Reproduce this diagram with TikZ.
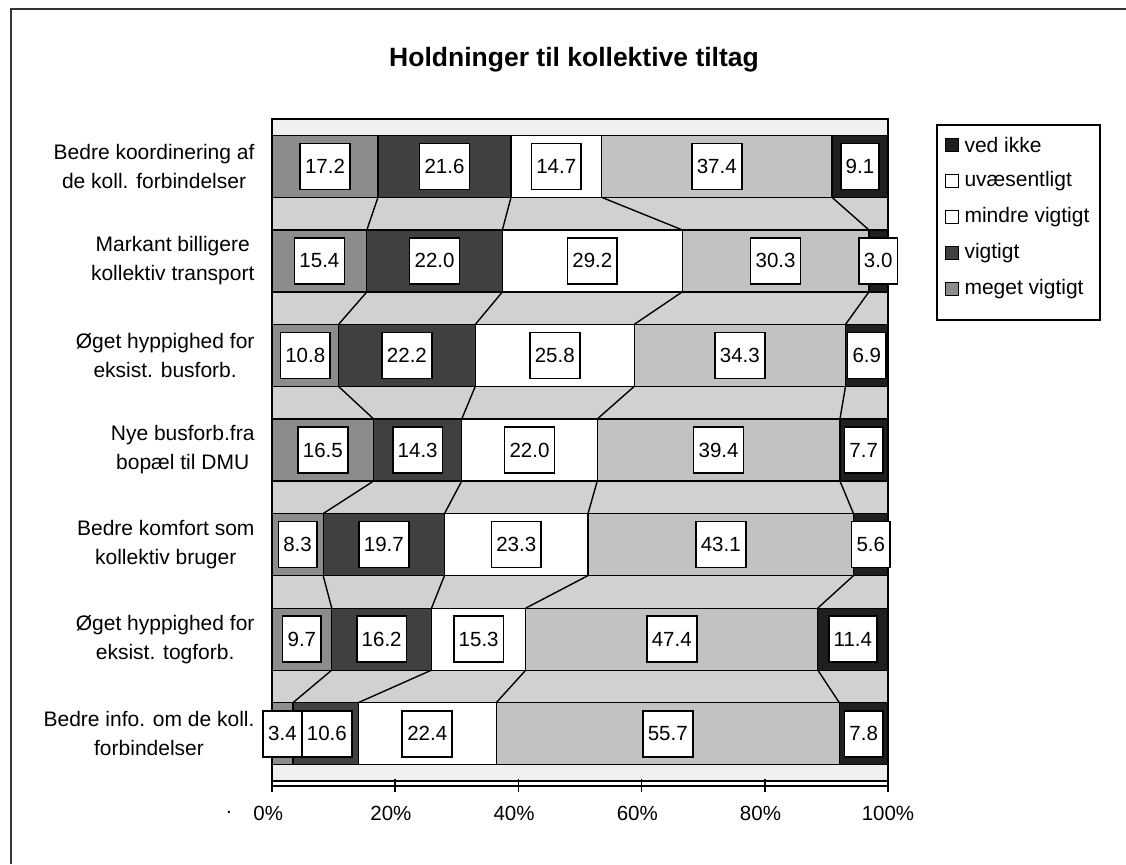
\documentclass[tikz,border=0pt]{standalone}
\usepackage{fontspec}
\setmainfont{Liberation Sans}
\definecolor{megetgray}{gray}{0.55}
\definecolor{vigtiggray}{gray}{0.25}
\definecolor{uvaesgray}{gray}{0.76}
\definecolor{vedikkegray}{gray}{0.12}
\definecolor{gapgray}{gray}{0.82}
\definecolor{stripgray}{gray}{0.94}
\tikzset{
  seg/.style={draw=black, line width=1.2pt},
  numbox/.style={draw=black, fill=white, line width=1.6pt, inner xsep=5pt, inner ysep=0pt,
    minimum height=46pt, font=\fontsize{20.5}{24}\selectfont},
  catlabel/.style={anchor=east, align=center, font=\fontsize{21}{29}\selectfont},
  legmark/.style={draw=black, line width=1pt, minimum size=13pt, inner sep=0pt},
  legtext/.style={anchor=west, font=\fontsize{21}{24}\selectfont},
  axlabel/.style={font=\fontsize{20.5}{24}\selectfont},
  serieline/.style={black, line width=1.4pt}
}
\begin{document}
\begin{tikzpicture}[x=1pt,y=-1pt]
  \useasboundingbox (0,0) rectangle (1126,864);
  % outer frame
  \draw[line width=2.5pt, black!80] (11,864) -- (11,9) -- (1126,9);
  \node[font=\bfseries\fontsize{26.5}{30}\selectfont] (title) at (574,60) {Holdninger til kollektive tiltag};

  \begin{scope}[shift={(272,0)}, x=6.16pt]
  % plot area and gaps
  \fill[stripgray] (0,119) rectangle (100,781);
  \fill[gapgray] (0,197.3) rectangle (100,229.9);
  \fill[gapgray] (0,291.9) rectangle (100,324.4);
  \fill[gapgray] (0,386.4) rectangle (100,419);
  \fill[gapgray] (0,481) rectangle (100,513.6);
  \fill[gapgray] (0,575.6) rectangle (100,608.1);
  \fill[gapgray] (0,670.1) rectangle (100,702.7);

  % row 1
  \filldraw[seg, fill=megetgray] (0,135.3) rectangle (17.2,197.3);
  \filldraw[seg, fill=vigtiggray] (17.2,135.3) rectangle (38.8,197.3);
  \filldraw[seg, fill=white] (38.8,135.3) rectangle (53.5,197.3);
  \filldraw[seg, fill=uvaesgray] (53.5,135.3) rectangle (90.9,197.3);
  \filldraw[seg, fill=vedikkegray] (90.9,135.3) rectangle (100,197.3);
  % row 2
  \filldraw[seg, fill=megetgray] (0,229.9) rectangle (15.4,291.9);
  \filldraw[seg, fill=vigtiggray] (15.4,229.9) rectangle (37.4,291.9);
  \filldraw[seg, fill=white] (37.4,229.9) rectangle (66.6,291.9);
  \filldraw[seg, fill=uvaesgray] (66.6,229.9) rectangle (96.9,291.9);
  \filldraw[seg, fill=vedikkegray] (96.9,229.9) rectangle (100,291.9);
  % row 3
  \filldraw[seg, fill=megetgray] (0,324.4) rectangle (10.8,386.4);
  \filldraw[seg, fill=vigtiggray] (10.8,324.4) rectangle (33.0,386.4);
  \filldraw[seg, fill=white] (33.0,324.4) rectangle (58.8,386.4);
  \filldraw[seg, fill=uvaesgray] (58.8,324.4) rectangle (93.1,386.4);
  \filldraw[seg, fill=vedikkegray] (93.1,324.4) rectangle (100,386.4);
  % row 4
  \filldraw[seg, fill=megetgray] (0,419) rectangle (16.5,481);
  \filldraw[seg, fill=vigtiggray] (16.5,419) rectangle (30.8,481);
  \filldraw[seg, fill=white] (30.8,419) rectangle (52.8,481);
  \filldraw[seg, fill=uvaesgray] (52.8,419) rectangle (92.2,481);
  \filldraw[seg, fill=vedikkegray] (92.2,419) rectangle (100,481);
  % row 5
  \filldraw[seg, fill=megetgray] (0,513.6) rectangle (8.3,575.6);
  \filldraw[seg, fill=vigtiggray] (8.3,513.6) rectangle (28.0,575.6);
  \filldraw[seg, fill=white] (28.0,513.6) rectangle (51.3,575.6);
  \filldraw[seg, fill=uvaesgray] (51.3,513.6) rectangle (94.4,575.6);
  \filldraw[seg, fill=vedikkegray] (94.4,513.6) rectangle (100,575.6);
  % row 6
  \filldraw[seg, fill=megetgray] (0,608.1) rectangle (9.7,670.1);
  \filldraw[seg, fill=vigtiggray] (9.7,608.1) rectangle (25.9,670.1);
  \filldraw[seg, fill=white] (25.9,608.1) rectangle (41.2,670.1);
  \filldraw[seg, fill=uvaesgray] (41.2,608.1) rectangle (88.6,670.1);
  \filldraw[seg, fill=vedikkegray] (88.6,608.1) rectangle (100,670.1);
  % row 7
  \filldraw[seg, fill=megetgray] (0,702.7) rectangle (3.4,764.7);
  \filldraw[seg, fill=vigtiggray] (3.4,702.7) rectangle (14.0,764.7);
  \filldraw[seg, fill=white] (14.0,702.7) rectangle (36.4,764.7);
  \filldraw[seg, fill=uvaesgray] (36.4,702.7) rectangle (92.1,764.7);
  \filldraw[seg, fill=vedikkegray] (92.1,702.7) rectangle (100,764.7);

  % series lines
  \draw[serieline] (17.2,197.3) -- (15.4,229.9);
  \draw[serieline] (38.8,197.3) -- (37.4,229.9);
  \draw[serieline] (53.5,197.3) -- (66.6,229.9);
  \draw[serieline] (90.9,197.3) -- (96.9,229.9);
  \draw[serieline] (15.4,291.9) -- (10.8,324.4);
  \draw[serieline] (37.4,291.9) -- (33.0,324.4);
  \draw[serieline] (66.6,291.9) -- (58.8,324.4);
  \draw[serieline] (96.9,291.9) -- (93.1,324.4);
  \draw[serieline] (10.8,386.4) -- (16.5,419);
  \draw[serieline] (33.0,386.4) -- (30.8,419);
  \draw[serieline] (58.8,386.4) -- (52.8,419);
  \draw[serieline] (93.1,386.4) -- (92.2,419);
  \draw[serieline] (16.5,481) -- (8.3,513.6);
  \draw[serieline] (30.8,481) -- (28.0,513.6);
  \draw[serieline] (52.8,481) -- (51.3,513.6);
  \draw[serieline] (92.2,481) -- (94.4,513.6);
  \draw[serieline] (8.3,575.6) -- (9.7,608.1);
  \draw[serieline] (28.0,575.6) -- (25.9,608.1);
  \draw[serieline] (51.3,575.6) -- (41.2,608.1);
  \draw[serieline] (94.4,575.6) -- (88.6,608.1);
  \draw[serieline] (9.7,670.1) -- (3.4,702.7);
  \draw[serieline] (25.9,670.1) -- (14.0,702.7);
  \draw[serieline] (41.2,670.1) -- (36.4,702.7);
  \draw[serieline] (88.6,670.1) -- (92.1,702.7);

  % plot border and axis
  \draw[line width=1.5pt] (0,119) rectangle (100,781);
  \draw[line width=1.5pt] (0,786) -- (100,786);
  \draw[line width=1.5pt] (0,779) -- (0,792);
  \draw[line width=1.5pt] (20,779) -- (20,792);
  \draw[line width=1.5pt] (40,779) -- (40,792);
  \draw[line width=1.5pt] (60,779) -- (60,792);
  \draw[line width=1.5pt] (80,779) -- (80,792);
  \draw[line width=1.5pt] (100,779) -- (100,792);
  \node[axlabel] (dot) at (-7,812) {.};
  \node[axlabel] (p0) at (-0.6,813) {0\%};
  \node[axlabel] (p20) at (19.3,813) {20\%};
  \node[axlabel] (p40) at (39.3,813) {40\%};
  \node[axlabel] (p60) at (59.3,813) {60\%};
  \node[axlabel] (p80) at (79.3,813) {80\%};
  \node[axlabel] (p100) at (100,813) {100\%};

  % value labels
  \node[numbox] (r1a) at (8.6,166.3) {17.2};
  \node[numbox] (r1b) at (28.0,166.3) {21.6};
  \node[numbox] (r1c) at (46.15,166.3) {14.7};
  \node[numbox] (r1d) at (72.2,166.3) {37.4};
  \node[numbox] (r1e) at (95.45,166.3) {9.1};
  \node[numbox] (r2a) at (7.7,260.9) {15.4};
  \node[numbox] (r2b) at (26.4,260.9) {22.0};
  \node[numbox] (r2c) at (52.0,260.9) {29.2};
  \node[numbox] (r2d) at (81.75,260.9) {30.3};
  \node[numbox] (r2e) at (98.4,260.9) {3.0};
  \node[numbox] (r3a) at (5.4,355.4) {10.8};
  \node[numbox] (r3b) at (21.9,355.4) {22.2};
  \node[numbox] (r3c) at (45.9,355.4) {25.8};
  \node[numbox] (r3d) at (75.95,355.4) {34.3};
  \node[numbox] (r3e) at (96.55,355.4) {6.9};
  \node[numbox] (r4a) at (8.25,450) {16.5};
  \node[numbox] (r4b) at (23.65,450) {14.3};
  \node[numbox] (r4c) at (41.8,450) {22.0};
  \node[numbox] (r4d) at (72.5,450) {39.4};
  \node[numbox] (r4e) at (96.05,450) {7.7};
  \node[numbox] (r5a) at (4.15,544.6) {8.3};
  \node[numbox] (r5b) at (18.15,544.6) {19.7};
  \node[numbox] (r5c) at (39.65,544.6) {23.3};
  \node[numbox] (r5d) at (72.85,544.6) {43.1};
  \node[numbox] (r5e) at (97.2,544.6) {5.6};
  \node[numbox] (r6a) at (4.85,639.1) {9.7};
  \node[numbox] (r6b) at (17.8,639.1) {16.2};
  \node[numbox] (r6c) at (33.55,639.1) {15.3};
  \node[numbox] (r6d) at (64.9,639.1) {47.4};
  \node[numbox] (r6e) at (94.3,639.1) {11.4};
  \node[numbox] (r7a) at (1.7,733.7) {3.4};
  \node[numbox] (r7b) at (8.9,733.7) {10.6};
  \node[numbox] (r7c) at (25.2,733.7) {22.4};
  \node[numbox] (r7d) at (64.25,733.7) {55.7};
  \node[numbox] (r7e) at (96.05,733.7) {7.8};
  \end{scope}

  % category labels
  \node[catlabel] (cat1) at (258,166.3) {Bedre koordinering af\\de koll. forbindelser};
  \node[catlabel] (cat2) at (258,260.9) {Markant billigere\\kollektiv transport};
  \node[catlabel] (cat3) at (258,355.4) {Øget hyppighed for\\eksist. busforb.};
  \node[catlabel] (cat4) at (258,450) {Nye busforb.fra\\bopæl til DMU};
  \node[catlabel] (cat5) at (258,544.6) {Bedre komfort som\\kollektiv bruger};
  \node[catlabel] (cat6) at (258,639.1) {Øget hyppighed for\\eksist. togforb.};
  \node[catlabel] (cat7) at (258,733.7) {Bedre info. om de koll.\\forbindelser};

  % legend
  \draw[line width=1.2pt] (937,125) rectangle (1100,320);
  \node[legmark, fill=vedikkegray] (m1) at (952,145) {};
  \node[legtext] (l1) at (961,145) {ved ikke};
  \node[legmark, fill=white] (m2) at (952,181) {};
  \node[legtext] (l2) at (961,181) {uvæsentligt};
  \node[legmark, fill=white] (m3) at (952,217) {};
  \node[legtext] (l3) at (961,217) {mindre vigtigt};
  \node[legmark, fill=vigtiggray] (m4) at (952,253) {};
  \node[legtext] (l4) at (961,253) {vigtigt};
  \node[legmark, fill=megetgray] (m5) at (952,289) {};
  \node[legtext] (l5) at (961,289) {meget vigtigt};
\end{tikzpicture}
\end{document}
